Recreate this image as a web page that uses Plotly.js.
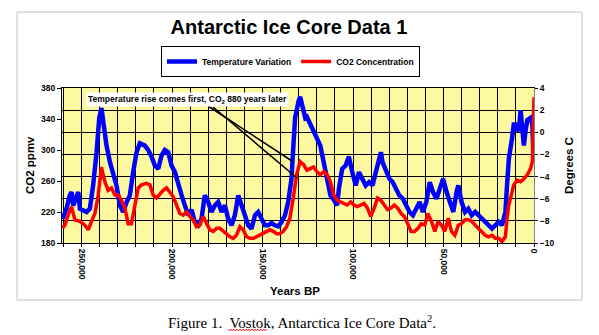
<!DOCTYPE html>
<html>
<head>
<meta charset="utf-8">
<script src="https://cdn.plot.ly/plotly-3.0.1.min.js"></script>
<style>html,body{margin:0;padding:0;background:#fff;}#chart{width:599px;height:335px;}</style>
</head>
<body>
<div id="chart"></div>
<script>
// ---- Data ----
var tempYears = [260500,258300,256500,255500,254600,252800,251800,250900,249100,247200,245400,244500,243600,241700,240200,239000,238000,236200,234300,232500,230700,228800,227000,225100,223300,221500,219600,217800,215000,213200,211300,209500,207600,205800,204000,202100,200300,198400,196600,194700,192900,191100,189200,187400,185500,183700,181900,180000,178200,176300,174500,172600,170800,169000,167100,165300,163400,161600,159700,157900,156100,154200,152400,150500,148700,146900,145000,143200,141300,139500,137600,135800,134000,132800,132000,130100,129200,128300,127300,126400,125500,123600,121800,119900,118100,116200,114300,112500,110600,108800,107800,106000,104100,102300,100400,98500,96700,94800,93000,91100,89200,87400,85500,84600,83700,81800,79900,78100,76200,74400,72500,70600,68800,66900,65100,63200,61400,59500,57600,55800,53900,52100,50200,48300,46500,44600,42800,41800,40000,38100,36300,34400,32500,30700,28800,27000,25100,23200,21400,19500,17700,15800,14900,13900,12100,11200,10200,8400,7400,6500,5600,4700,3700,1900,900,400];
var tempVals = [-7.8,-6.9,-5.7,-5.4,-6.6,-5.7,-5.4,-6.9,-7.0,-7.2,-6.9,-6.0,-4.8,-1.8,1.3,2.2,1.0,-1.2,-2.7,-3.6,-4.8,-6.6,-7.2,-6.3,-5.7,-3.6,-1.8,-1.0,-1.2,-1.6,-2.2,-3.0,-3.3,-2.1,-1.6,-1.8,-3.0,-3.6,-4.8,-5.7,-6.6,-7.5,-7.0,-8.1,-8.4,-7.8,-5.7,-6.3,-7.2,-6.6,-6.3,-7.2,-6.6,-7.8,-8.4,-7.5,-5.7,-6.6,-7.8,-8.4,-8.7,-7.5,-7.2,-7.8,-8.4,-8.4,-8.2,-8.4,-8.5,-8.1,-7.5,-6.3,-4.2,-0.8,1.3,2.8,3.2,2.6,1.9,1.3,1.4,0.7,0.1,-0.5,-1.2,-2.7,-4.5,-5.7,-6.1,-6.6,-5.1,-3.3,-3.0,-2.2,-3.6,-4.8,-3.6,-4.2,-4.8,-4.5,-4.8,-3.6,-2.4,-1.8,-2.7,-3.6,-4.2,-4.5,-5.1,-5.7,-6.0,-6.6,-7.2,-7.5,-6.9,-6.3,-7.2,-6.3,-4.5,-5.4,-6.0,-5.1,-4.2,-5.4,-6.3,-7.2,-5.4,-4.8,-6.3,-7.2,-6.9,-7.5,-7.2,-7.5,-7.8,-8.1,-8.4,-8.7,-8.4,-8.1,-8.4,-7.2,-4.8,-2.4,-0.5,0.7,0.7,0.1,2.0,0.4,-1.2,0.1,1.1,1.3,0.7,-1.8];

var co2Years = [260500,259200,257400,255500,253700,250900,248200,246300,244500,242600,240800,239000,237100,235300,233400,231600,229700,227900,226100,224200,222400,220500,218700,216800,214100,212200,210400,208600,206700,204900,203000,201200,199400,197500,195700,193800,192000,190100,188300,186500,184600,182800,180900,179100,177200,175400,173600,171700,169900,168000,166200,164400,162500,160700,158800,157000,155100,153300,151500,149600,147800,145900,144100,142200,140400,138600,136700,134900,133000,131200,129200,127300,125500,123600,121800,119900,118100,116200,114300,112500,110600,108800,106900,105000,103200,101300,99500,97600,95700,93900,92000,90200,88300,86400,84600,82700,80900,79000,77200,75300,73400,71600,69700,67900,66000,64100,62300,60400,58600,56700,54800,53000,51100,49300,47400,45600,43700,41800,40000,38100,36300,34400,32500,30700,28800,27000,25100,23200,21400,19500,17700,15800,14900,13900,12100,11200,9300,7400,5600,3700,1900,900,0];
var co2Vals = [199,203,216,227,210,208,203,197,208,218,242,278,259,248,251,242,242,235,225,205,205,229,251,255,257,255,242,238,244,248,251,246,240,229,218,216,220,214,210,201,203,214,205,197,195,199,199,195,192,188,186,190,201,197,188,186,186,188,190,192,195,197,195,192,192,195,201,212,238,268,285,281,274,276,278,272,268,272,268,259,242,235,233,231,229,233,229,227,229,231,225,214,225,238,235,229,223,225,229,225,218,214,203,195,195,199,205,203,218,208,195,208,203,195,212,195,190,203,205,210,210,208,203,199,195,190,188,190,186,186,182,188,212,229,246,255,261,259,263,268,276,285,368];

var seriesNames = ["Temperature Variation", "CO2 Concentration"];
var xLabelYears = [250000, 200000, 150000, 100000, 50000, 0];
var xTickLabels = ["250,000", "200,000", "150,000", "100,000", "50,000", "0"];
var co2Ticks = [180, 220, 260, 300, 340, 380];
var tempTicks = [-10, -8, -6, -4, -2, 0, 2, 4];

// ---- Layout geometry (pixels) ----
var W = 599, H = 335, PL = 62, PR = 534, PT = 88, PB = 243;
function px(p) { return (p - PL) / (PR - PL); }
function py(p) { return (PB - p) / (PB - PT); }

// vertical gridlines every 10,000 years; labels only on the 50,000 marks
var gridYears = [], gridText = [];
for (var yv = 0; yv <= 260000; yv += 10000) {
  gridYears.push(yv);
  var k = xLabelYears.indexOf(yv);
  gridText.push(k >= 0 ? xTickLabels[k] : "");
}

var SANS = "Liberation Sans, Arial, sans-serif";
var tickFont = {family: SANS, size: 8.5, color: "#000", weight: "bold"};

var traces = [
  {x: tempYears, y: tempVals, name: seriesNames[0], type: "scatter", mode: "lines",
   yaxis: "y", line: {color: "#0000ff", width: 4.5}},
  {x: co2Years, y: co2Vals, name: seriesNames[1], type: "scatter", mode: "lines",
   yaxis: "y2", line: {color: "#ff0000", width: 3.5}}
];

// red spell-check squiggle under "Vostok"
var sq = "";
for (var i = 0, xx = 228; xx <= 268; xx += 1.5, i++) {
  var yy = (i % 2 === 0) ? 329 : 331;
  sq += (i === 0 ? "M" : "L") + px(xx).toFixed(4) + "," + py(yy).toFixed(4) + " ";
}

var layout = {
  width: W, height: H,
  margin: {l: PL, r: W - PR, t: PT, b: H - PB, pad: 0},
  paper_bgcolor: "#ffffff",
  plot_bgcolor: "#FBF8A0",
  showlegend: true,
  title: {text: "Antarctic Ice Core Data 1", font: {family: SANS, size: 20, color: "#000", weight: "bold"},
          x: 289 / W, xref: "container", xanchor: "center", y: 1 - 27 / H, yref: "container", yanchor: "middle"},
  legend: {orientation: "h", x: px(290.5), xanchor: "center", y: py(61.5), yanchor: "middle",
           bgcolor: "#ffffff", bordercolor: "#000", borderwidth: 1,
           font: {family: SANS, size: 8.5, color: "#000", weight: "bold"}, itemwidth: 30, tracegroupgap: 0},
  xaxis: {range: [260800, 0], tickmode: "array", tickvals: gridYears, ticktext: gridText,
          tickangle: 90, tickfont: tickFont, ticks: "outside", ticklen: 3, tickcolor: "#000",
          showgrid: true, gridcolor: "#000", gridwidth: 1, zeroline: false,
          showline: true, linecolor: "#000", linewidth: 1, mirror: true, fixedrange: true},
  yaxis: {side: "right", range: [-10, 4], tickmode: "array", tickvals: tempTicks,
          tickfont: tickFont, ticks: "outside", ticklen: 3, tickcolor: "#000",
          showgrid: true, gridcolor: "#000", gridwidth: 1, zeroline: false,
          showline: true, linecolor: "#808080", linewidth: 1},
  yaxis2: {overlaying: "y", side: "left", range: [180, 380], tickmode: "array", tickvals: co2Ticks,
           tickfont: tickFont, ticks: "outside", ticklen: 4, tickcolor: "#000",
           showgrid: false, zeroline: false, showline: true, linecolor: "#000", linewidth: 1},
  shapes: [
    {type: "rect", xref: "paper", yref: "paper", x0: px(17), x1: px(582), y0: py(300), y1: py(12),
     line: {color: "#c4c4c4", width: 1}, layer: "below"},
    {type: "line", xref: "paper", yref: "paper", x0: px(208), y0: py(106), x1: px(292), y1: py(161),
     line: {color: "#000", width: 1.5}},
    {type: "line", xref: "paper", yref: "paper", x0: px(213), y0: py(107), x1: px(297), y1: py(178),
     line: {color: "#000", width: 1.5}},
    {type: "path", xref: "paper", yref: "paper", path: sq, line: {color: "#ff0000", width: 0.8}}
  ],
  annotations: [
    {text: "Temperature rise comes first, CO<sub>2</sub> 880 years later", xref: "paper", yref: "paper",
     x: px(187), y: py(99.5), xanchor: "center", yanchor: "middle", showarrow: false,
     bgcolor: "#ffffff", borderpad: 1, font: {family: SANS, size: 8.5, color: "#000", weight: "bold"}},
    {text: "CO2 ppmv", xref: "paper", yref: "paper", x: px(30), y: py(165), textangle: -90,
     xanchor: "center", yanchor: "middle", showarrow: false,
     font: {family: SANS, size: 11.5, color: "#000", weight: "bold"}},
    {text: "Degrees C", xref: "paper", yref: "paper", x: px(569), y: py(166), textangle: -90,
     xanchor: "center", yanchor: "middle", showarrow: false,
     font: {family: SANS, size: 11.5, color: "#000", weight: "bold"}},
    {text: "Years BP", xref: "paper", yref: "paper", x: px(295), y: py(291),
     xanchor: "center", yanchor: "middle", showarrow: false,
     font: {family: SANS, size: 11.5, color: "#000", weight: "bold"}},
    {text: "Figure 1.  Vostok, Antarctica Ice Core Data<sup>2</sup>.", xref: "paper", yref: "paper",
     x: px(302), y: py(322), xanchor: "center", yanchor: "middle", showarrow: false,
     font: {family: "Liberation Serif, Times New Roman, serif", size: 15, color: "#000"}}
  ]
};

Plotly.newPlot("chart", traces, layout, {displayModeBar: false, staticPlot: true});
</script>
</body>
</html>
